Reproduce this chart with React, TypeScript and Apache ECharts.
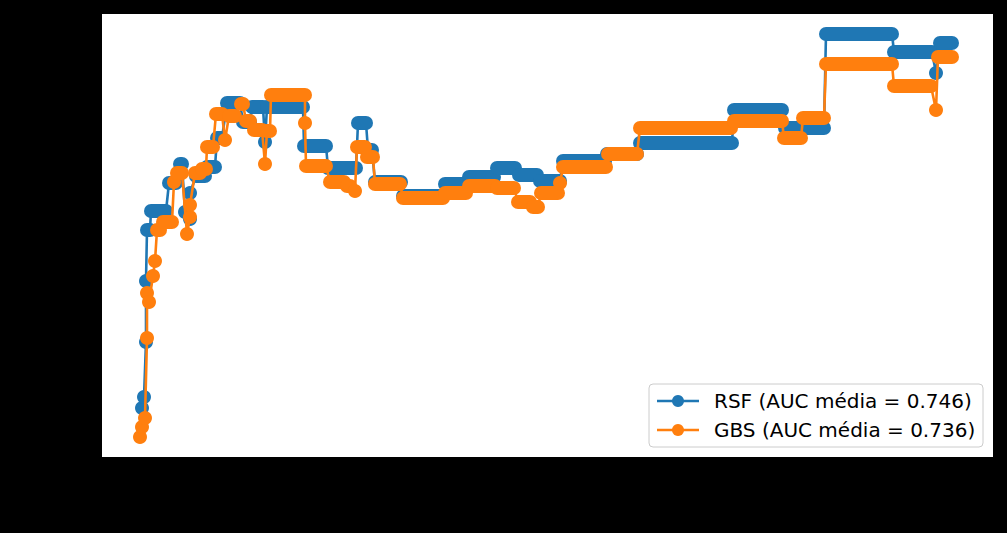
import React, { useEffect, useRef } from "react";
import * as echarts from "echarts";

// RSF runs: start time, end time, AUC value
const rsfStart = [41, 43, 45, 45, 46, 50, 68, 79, 84, 89, 89, 95, 106, 116, 126, 142, 151, 164, 166, 203, 227, 257, 267, 274, 302, 344, 368, 396, 418, 439, 462, 506, 539, 633, 684, 725, 793, 835, 839];
const rsfEnd = [41, 43, 45, 45, 49, 65, 75, 81, 84, 89, 89, 104, 114, 121, 139, 149, 162, 164, 202, 225, 255, 265, 271, 300, 342, 365, 393, 414, 436, 459, 504, 536, 631, 681, 723, 791, 831, 835, 851];
const rsfAuc = [0.499, 0.510, 0.565, 0.626, 0.677, 0.696, 0.724, 0.743, 0.695, 0.688, 0.714, 0.731, 0.740, 0.769, 0.804, 0.785, 0.800, 0.765, 0.800, 0.761, 0.739, 0.784, 0.757, 0.725, 0.711, 0.723, 0.730, 0.739, 0.732, 0.726, 0.746, 0.753, 0.764, 0.797, 0.779, 0.873, 0.855, 0.834, 0.864];

// GBS runs
const gbsStart = [39, 41, 44, 46, 46, 48, 52, 54, 56, 62, 73, 76, 86, 89, 89, 94, 101, 106, 115, 124, 128, 140, 145, 153, 164, 166, 170, 204, 205, 229, 246, 254, 256, 266, 274, 302, 344, 368, 396, 417, 432, 440, 459, 462, 507, 539, 633, 683, 702, 725, 793, 835, 837];
const gbsEnd = [39, 41, 44, 46, 46, 48, 52, 54, 59, 71, 73, 81, 86, 89, 89, 99, 105, 112, 121, 124, 134, 142, 149, 161, 164, 169, 204, 204, 225, 243, 249, 254, 264, 272, 299, 342, 365, 394, 413, 429, 437, 457, 459, 505, 536, 630, 681, 700, 723, 791, 830, 835, 851];
const gbsAuc = [0.470, 0.480, 0.489, 0.569, 0.614, 0.605, 0.631, 0.646, 0.677, 0.685, 0.725, 0.734, 0.673, 0.690, 0.702, 0.734, 0.738, 0.760, 0.793, 0.767, 0.791, 0.803, 0.786, 0.777, 0.743, 0.776, 0.812, 0.784, 0.741, 0.725, 0.721, 0.716, 0.760, 0.750, 0.723, 0.709, 0.714, 0.721, 0.719, 0.705, 0.700, 0.714, 0.724, 0.740, 0.753, 0.779, 0.786, 0.769, 0.789, 0.843, 0.821, 0.797, 0.850];

const legendLabels = ["RSF (AUC média = 0.746)", "GBS (AUC média = 0.736)"];

const BLUE = "#1f77b4";
const ORANGE = "#ff7f0e";
const MARKER = 14;
const LINE_W = 2.6;

function runsToLine(s: number[], e: number[], v: number[]) {
  const out: number[][] = [];
  for (let i = 0; i < s.length; i++) {
    out.push([s[i], v[i]]);
    if (e[i] !== s[i]) out.push([e[i], v[i]]);
  }
  return out;
}

function runsToBands(s: number[], e: number[], v: number[]) {
  return s.map((x, i) => [x, e[i], v[i]]);
}

function lineSeries(data: number[][], color: string, z: number) {
  return {
    type: "line",
    data,
    showSymbol: false,
    symbol: "none",
    lineStyle: { color, width: LINE_W },
    z,
    silent: true,
  };
}

function bandSeries(data: number[][], color: string, z: number) {
  return {
    type: "custom",
    data,
    encode: { x: [0, 1], y: 2 },
    z,
    silent: true,
    renderItem: (_params: any, api: any) => {
      const p0 = api.coord([api.value(0), api.value(2)]);
      const p1 = api.coord([api.value(1), api.value(2)]);
      if (Math.abs(p1[0] - p0[0]) < 0.5) {
        return {
          type: "circle",
          shape: { cx: p0[0], cy: p0[1], r: MARKER / 2 },
          style: { fill: color },
        };
      }
      return {
        type: "line",
        shape: { x1: p0[0], y1: p0[1], x2: p1[0], y2: p1[1] },
        style: { stroke: color, lineWidth: MARKER, lineCap: "round" },
      };
    },
  };
}

export default function App() {
  const ref = useRef<HTMLDivElement>(null);

  useEffect(() => {
    if (!ref.current) return;
    const chart = echarts.init(ref.current, null, { renderer: "svg" });
    const lx = 649, ly = 384, lw = 334, lh = 63;
    const rows = [401, 430];
    const colors = [BLUE, ORANGE];
    const legendChildren: any[] = [
      {
        type: "rect",
        shape: { x: lx, y: ly, width: lw, height: lh, r: 4 },
        style: { fill: "rgba(255,255,255,0.8)", stroke: "#cccccc", lineWidth: 1 },
      },
    ];
    rows.forEach((ry, i) => {
      legendChildren.push({
        type: "line",
        shape: { x1: 657, y1: ry, x2: 699, y2: ry },
        style: { stroke: colors[i], lineWidth: LINE_W },
      });
      legendChildren.push({
        type: "circle",
        shape: { cx: 678, cy: ry, r: 6 },
        style: { fill: colors[i] },
      });
      legendChildren.push({
        type: "text",
        x: 714,
        y: ry,
        style: {
          text: legendLabels[i],
          fill: "#000000",
          font: '20px "DejaVu Sans"',
          verticalAlign: "middle",
          align: "left",
        },
      });
    });

    chart.setOption({
      animation: false,
      backgroundColor: "#000000",
      grid: { left: 101, right: 14, top: 14, bottom: 76, show: true, backgroundColor: "#ffffff", borderWidth: 0 },
      xAxis: {
        type: "value",
        min: 0,
        max: 892,
        axisLine: { show: true, lineStyle: { color: "#000000" } },
        axisTick: { show: false },
        axisLabel: { show: false },
        splitLine: { show: false },
      },
      yAxis: {
        type: "value",
        min: 0.45,
        max: 0.893,
        axisLine: { show: true, lineStyle: { color: "#000000" } },
        axisTick: { show: false },
        axisLabel: { show: false },
        splitLine: { show: false },
      },
      series: [
        lineSeries(runsToLine(rsfStart, rsfEnd, rsfAuc), BLUE, 2),
        bandSeries(runsToBands(rsfStart, rsfEnd, rsfAuc), BLUE, 3),
        lineSeries(runsToLine(gbsStart, gbsEnd, gbsAuc), ORANGE, 4),
        bandSeries(runsToBands(gbsStart, gbsEnd, gbsAuc), ORANGE, 5),
      ],
      graphic: [{ type: "group", z: 100, children: legendChildren }],
    });
    return () => chart.dispose();
  }, []);

  return (
    <div style={{ position: "fixed", left: 0, top: 0, width: 1007, height: 533, background: "#000" }}>
      <div ref={ref} style={{ width: 1007, height: 533 }} />
    </div>
  );
}
